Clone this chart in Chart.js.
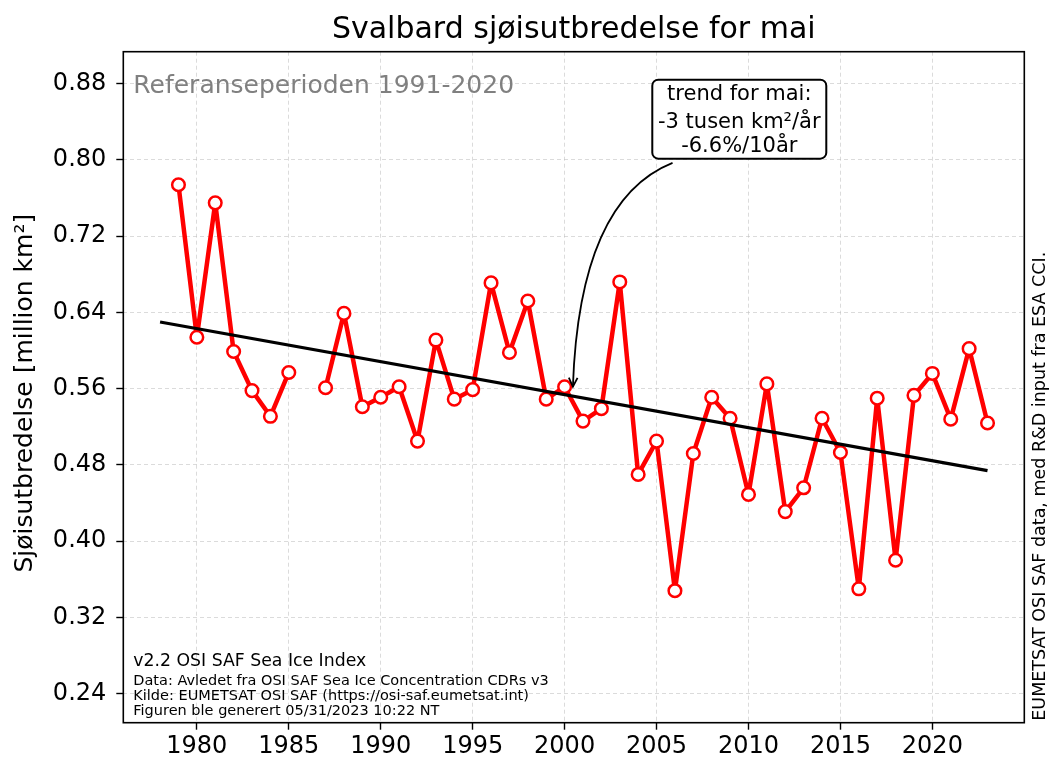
<!DOCTYPE html>
<html>
<head>
<meta charset="utf-8">
<script src="https://cdn.jsdelivr.net/npm/chart.js@4"></script>
<style>
  body { margin: 0; background: #fff; }
  canvas { display: block; }
</style>
</head>
<body>
<canvas id="chart" width="1049" height="763"></canvas>
<script>
// mai-utbredelse, Svalbard (million km2), 1986 mangler
const years = [1979, 1980, 1981, 1982, 1983, 1984, 1985, 1986, 1987, 1988, 1989, 1990,
  1991, 1992, 1993, 1994, 1995, 1996, 1997, 1998, 1999, 2000, 2001, 2002, 2003, 2004,
  2005, 2006, 2007, 2008, 2009, 2010, 2011, 2012, 2013, 2014, 2015, 2016, 2017, 2018,
  2019, 2020, 2021, 2022, 2023];
const extent = [0.774, 0.614, 0.755, 0.599, 0.558, 0.531, 0.577, null, 0.561, 0.639, 0.541, 0.551,
  0.562, 0.505, 0.611, 0.549, 0.559, 0.671, 0.598, 0.652, 0.549, 0.562, 0.526, 0.539, 0.672, 0.470,
  0.505, 0.348, 0.492, 0.551, 0.529, 0.449, 0.565, 0.431, 0.456, 0.529, 0.493, 0.350, 0.550, 0.380,
  0.553, 0.576, 0.528, 0.602, 0.524];

const trendYears = [1978, 2023];
const trendValues = [0.630, 0.474];

const xTicks = [1980, 1985, 1990, 1995, 2000, 2005, 2010, 2015, 2020];
const yTicks = [0.24, 0.32, 0.40, 0.48, 0.56, 0.64, 0.72, 0.80, 0.88];

const FONT = "'DejaVu Sans', 'Liberation Sans', sans-serif";
Chart.defaults.font.family = FONT;
Chart.defaults.color = '#000';

// tekst og pil rundt plottet
const decor = {
  id: 'decor',
  afterDraw(chart) {
    const { ctx, chartArea: a, scales: { x, y } } = chart;
    ctx.save();

    // ramme
    ctx.strokeStyle = '#000';
    ctx.lineWidth = 1.6;
    ctx.strokeRect(a.left, a.top, a.right - a.left, a.bottom - a.top);

    // tittel
    ctx.fillStyle = '#000';
    ctx.textAlign = 'center';
    ctx.textBaseline = 'alphabetic';
    ctx.font = '30px ' + FONT;
    ctx.fillText('Svalbard sjøisutbredelse for mai', (a.left + a.right) / 2, 38);

    // y-aksetittel
    ctx.save();
    ctx.translate(25, (a.top + a.bottom) / 2 + 6);
    ctx.rotate(-Math.PI / 2);
    ctx.textBaseline = 'middle';
    ctx.font = '25px ' + FONT;
    ctx.fillText('Sjøisutbredelse [million km²]', 0, 0);
    ctx.restore();

    // kilde på høyre side
    ctx.save();
    ctx.translate(1040, a.bottom - 2);
    ctx.rotate(-Math.PI / 2);
    ctx.textAlign = 'left';
    ctx.textBaseline = 'middle';
    ctx.font = '17.5px ' + FONT;
    ctx.fillText('EUMETSAT OSI SAF data, med R&D input fra ESA CCI.', 0, 0);
    ctx.restore();

    // referanseperiode
    ctx.textAlign = 'left';
    ctx.fillStyle = '#808080';
    ctx.font = '25px ' + FONT;
    ctx.fillText('Referanseperioden 1991-2020', a.left + 10, 93);

    // info nederst til venstre
    ctx.fillStyle = '#000';
    ctx.font = '17.3px ' + FONT;
    ctx.fillText('v2.2 OSI SAF Sea Ice Index', a.left + 10, 666);
    ctx.font = '14.5px ' + FONT;
    ctx.fillText('Data: Avledet fra OSI SAF Sea Ice Concentration CDRs v3', a.left + 10, 685);
    ctx.fillText('Kilde: EUMETSAT OSI SAF (https://osi-saf.eumetsat.int)', a.left + 10, 700);
    ctx.fillText('Figuren ble generert 05/31/2023 10:22 NT', a.left + 10, 715);

    // pil fra boksen til trendlinja
    const sx = x.getPixelForValue(2005.87), sy = y.getPixelForValue(0.797);
    const cx = x.getPixelForValue(2000.8), cy = y.getPixelForValue(0.758);
    const ex = x.getPixelForValue(2000.45), ey = y.getPixelForValue(0.562);
    ctx.strokeStyle = '#000';
    ctx.lineWidth = 1.8;
    ctx.beginPath();
    ctx.moveTo(sx, sy);
    ctx.quadraticCurveTo(cx, cy, ex, ey);
    ctx.stroke();
    const ang = Math.atan2(ey - cy, ex - cx);
    ctx.beginPath();
    ctx.moveTo(ex - 10 * Math.cos(ang - 0.45), ey - 10 * Math.sin(ang - 0.45));
    ctx.lineTo(ex, ey);
    ctx.lineTo(ex - 10 * Math.cos(ang + 0.45), ey - 10 * Math.sin(ang + 0.45));
    ctx.stroke();

    // trendboks
    const bx = x.getPixelForValue(2009.5), by = y.getPixelForValue(0.8423);
    ctx.fillStyle = '#fff';
    ctx.lineWidth = 2;
    ctx.beginPath();
    ctx.roundRect(bx - 87, by - 40, 174, 79, 6);
    ctx.fill();
    ctx.stroke();
    ctx.fillStyle = '#000';
    ctx.textAlign = 'center';
    ctx.font = '21px ' + FONT;
    ctx.fillText('trend for mai:', bx, by - 20);
    ctx.fillText('-3 tusen km²/år', bx, by + 8);
    ctx.fillText('-6.6%/10år', bx, by + 32);

    ctx.restore();
  }
};

new Chart(document.getElementById('chart'), {
  type: 'line',
  data: {
    datasets: [
      {
        label: 'trend',
        data: trendYears.map((yr, i) => ({ x: yr, y: trendValues[i] })),
        borderColor: '#000',
        borderWidth: 3.2,
        pointRadius: 0
      },
      {
        label: 'mai',
        data: years.map((yr, i) => ({ x: yr, y: extent[i] })),
        borderColor: '#ff0000',
        borderWidth: 4.5,
        borderJoinStyle: 'round',
        borderCapStyle: 'round',
        spanGaps: false,
        pointRadius: 6.3,
        pointBorderWidth: 2.5,
        pointBackgroundColor: '#fff',
        pointBorderColor: '#ff0000'
      }
    ]
  },
  options: {
    responsive: false,
    animation: false,
    layout: { padding: { top: 51.7, right: 24.7, left: 0, bottom: 0 } },
    plugins: { legend: { display: false }, title: { display: false }, tooltip: { enabled: false } },
    scales: {
      x: {
        type: 'linear',
        min: 1976,
        max: 2025,
        afterBuildTicks: s => { s.ticks = xTicks.map(v => ({ value: v })); },
        afterFit: s => { s.height = 40.3; },
        ticks: { font: { size: 24 }, padding: 3, maxRotation: 0, callback: v => String(v) },
        grid: { color: 'rgba(190,190,190,0.55)', lineWidth: 1, tickColor: '#000', tickLength: 7, tickWidth: 1.4 },
        border: { display: false, dash: [4, 3] }
      },
      y: {
        min: 0.2095,
        max: 0.9136,
        afterBuildTicks: s => { s.ticks = yTicks.map(v => ({ value: v })); },
        afterFit: s => { s.width = 123.3; },
        ticks: { font: { size: 24 }, padding: 10, callback: v => v.toFixed(2) },
        grid: { color: 'rgba(190,190,190,0.55)', lineWidth: 1, tickColor: '#000', tickLength: 7, tickWidth: 1.4 },
        border: { display: false, dash: [4, 3] }
      }
    }
  },
  plugins: [decor]
});
</script>
</body>
</html>
